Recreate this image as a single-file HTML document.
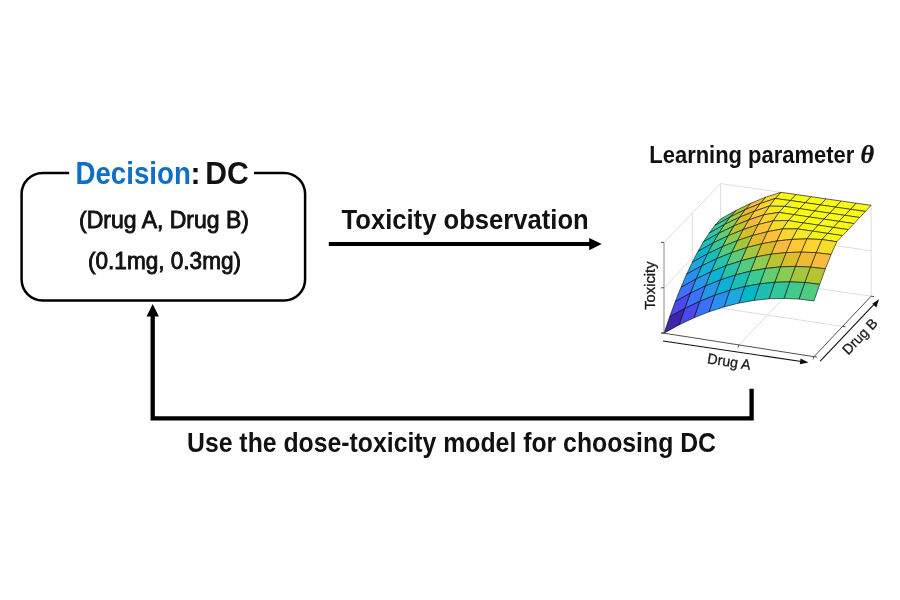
<!DOCTYPE html>
<html lang="en">
<head>
<meta charset="utf-8">
<title>Dose-toxicity learning loop</title>
<style>
html,body{margin:0;padding:0;background:#fff;}
body{width:900px;height:600px;overflow:hidden;}
svg{display:block;}
text{font-family:"Liberation Sans",sans-serif;}
.b{font-weight:bold;fill:#111;}
.m{fill:#111;stroke:#111;stroke-width:0.9px;}
.ax{font-size:14.6px;fill:#1a1a1a;stroke:#1a1a1a;stroke-width:0.3px;}
</style>
</head>
<body>
<svg width="900" height="600" viewBox="0 0 900 600">
<rect width="900" height="600" fill="#ffffff"/>

<!-- decision box -->
<path d="M69.2 173 H42.6 A21 21 0 0 0 21.6 194 V279.6 A21 21 0 0 0 42.6 300.6 H284.1 A21 21 0 0 0 305.1 279.6 V194 A21 21 0 0 0 284.1 173 H254" fill="none" stroke="#000" stroke-width="2.5"/>
<text x="75.5" y="184.3" font-size="30.7" class="b" style="fill:#0f6fc6" textLength="115.3" lengthAdjust="spacingAndGlyphs">Decision</text>
<text x="190.6" y="184.3" font-size="30.7" class="b" textLength="10" lengthAdjust="spacingAndGlyphs">:</text>
<text x="205.3" y="184.3" font-size="30.7" class="b" textLength="43.5" lengthAdjust="spacingAndGlyphs">DC</text>
<text x="79" y="227.7" font-size="24" class="m" textLength="170" lengthAdjust="spacingAndGlyphs">(Drug A, Drug B)</text>
<text x="88" y="269.3" font-size="24" class="m" textLength="153" lengthAdjust="spacingAndGlyphs">(0.1mg, 0.3mg)</text>

<!-- toxicity observation arrow -->
<text x="341.5" y="228.6" font-size="28" class="b" textLength="247.2" lengthAdjust="spacingAndGlyphs">Toxicity observation</text>
<line x1="328.8" y1="244.1" x2="590" y2="244.1" stroke="#000" stroke-width="4"/>
<polygon points="589.2,238 601.7,244.1 589.2,250.2" fill="#000"/>

<!-- feedback arrow -->
<path d="M751.6 388.8 V418.4 H152.7 V315" fill="none" stroke="#000" stroke-width="4.3"/>
<polygon points="146.5,316.4 152.7,304 158.9,316.4" fill="#000"/>
<text x="187" y="451.8" font-size="27" class="b" textLength="529" lengthAdjust="spacingAndGlyphs">Use the dose-toxicity model for choosing DC</text>

<!-- plot title -->
<text x="649.3" y="162.7" font-size="24" class="b" textLength="205" lengthAdjust="spacingAndGlyphs">Learning parameter</text>
<text x="860.6" y="162.7" font-size="24.5" textLength="13.6" lengthAdjust="spacingAndGlyphs" style="font-family:'Liberation Serif',serif;font-weight:bold;font-style:italic;fill:#111;stroke:#111;stroke-width:0.3px">θ</text>

<!-- 3D surface plot -->
<defs><filter id="soft" x="-5%" y="-5%" width="110%" height="110%"><feGaussianBlur stdDeviation="0.35"/></filter></defs>
<g id="plot" filter="url(#soft)">
<g fill="none">
<line x1="720.6" y1="274.4" x2="871.1" y2="296.2" stroke="#dcdcdc" stroke-width="1.0"/>
<line x1="664.0" y1="333.2" x2="720.6" y2="274.4" stroke="#dcdcdc" stroke-width="1.0"/>
<line x1="739.0" y1="344.9" x2="795.9" y2="285.3" stroke="#dcdcdc" stroke-width="1.0"/>
<line x1="692.3" y1="303.8" x2="842.5" y2="326.4" stroke="#dcdcdc" stroke-width="1.0"/>
<line x1="664.0" y1="242.4" x2="720.6" y2="183.6" stroke="#dcdcdc" stroke-width="1.0"/>
<line x1="664.0" y1="287.8" x2="720.6" y2="229.0" stroke="#dcdcdc" stroke-width="1.0"/>
<line x1="692.3" y1="303.8" x2="692.3" y2="213.0" stroke="#dcdcdc" stroke-width="1.0"/>
<line x1="720.6" y1="274.4" x2="720.6" y2="183.6" stroke="#dcdcdc" stroke-width="1.0"/>
<line x1="720.6" y1="183.6" x2="871.1" y2="205.4" stroke="#dcdcdc" stroke-width="1.0"/>
<line x1="720.6" y1="229.0" x2="871.1" y2="250.8" stroke="#dcdcdc" stroke-width="1.0"/>
<line x1="795.9" y1="285.3" x2="795.9" y2="194.5" stroke="#dcdcdc" stroke-width="1.0"/>
<line x1="871.1" y1="296.2" x2="871.1" y2="205.4" stroke="#dcdcdc" stroke-width="1.0"/>
</g>
<g stroke="#000" stroke-opacity="0.75" stroke-width="0.75" stroke-linejoin="round">
<polygon points="850.3,209.3 865.4,211.4 871.1,205.4 856.0,203.2" fill="#f9fb15"/>
<polygon points="835.3,207.1 850.3,209.3 856.0,203.2 841.0,201.0" fill="#f9fb15"/>
<polygon points="820.3,204.9 835.3,207.1 841.0,201.0 826.0,198.9" fill="#f9fb15"/>
<polygon points="805.2,202.7 820.3,204.9 826.0,198.9 810.9,196.7" fill="#f9fb15"/>
<polygon points="790.2,200.5 805.2,202.7 810.9,196.7 795.9,194.5" fill="#f9fb15"/>
<polygon points="775.1,198.5 790.2,200.5 795.9,194.5 780.8,192.3" fill="#f9fa16"/>
<polygon points="760.1,203.6 775.1,198.5 780.8,192.3 765.8,197.1" fill="#f7db2b"/>
<polygon points="745.0,209.7 760.1,203.6 765.8,197.1 750.7,203.3" fill="#f8ba3d"/>
<polygon points="730.0,217.0 745.0,209.7 750.7,203.3 735.7,210.6" fill="#b1c635"/>
<polygon points="714.9,225.4 730.0,217.0 735.7,210.6 720.6,219.0" fill="#4bcb84"/>
<polygon points="844.6,215.3 859.7,217.5 865.4,211.4 850.3,209.3" fill="#f9fb15"/>
<polygon points="829.6,213.1 844.6,215.3 850.3,209.3 835.3,207.1" fill="#f9fb15"/>
<polygon points="814.6,210.9 829.6,213.1 835.3,207.1 820.3,204.9" fill="#f9fb15"/>
<polygon points="799.5,208.6 814.6,210.9 820.3,204.9 805.2,202.7" fill="#f9fb15"/>
<polygon points="784.5,206.4 799.5,208.6 805.2,202.7 790.2,200.5" fill="#f9fb15"/>
<polygon points="769.4,206.1 784.5,206.4 790.2,200.5 775.1,198.5" fill="#f7f31d"/>
<polygon points="754.4,211.2 769.4,206.1 775.1,198.5 760.1,203.6" fill="#fad42e"/>
<polygon points="739.4,217.3 754.4,211.2 760.1,203.6 745.0,209.7" fill="#eeba34"/>
<polygon points="724.3,224.6 739.4,217.3 745.0,209.7 730.0,217.0" fill="#a1c840"/>
<polygon points="709.3,233.0 724.3,224.6 730.0,217.0 714.9,225.4" fill="#3eca8f"/>
<polygon points="838.9,221.3 854.0,223.6 859.7,217.5 844.6,215.3" fill="#f9fb15"/>
<polygon points="823.9,219.1 838.9,221.3 844.6,215.3 829.6,213.1" fill="#f9fb15"/>
<polygon points="808.9,216.9 823.9,219.1 829.6,213.1 814.6,210.9" fill="#f9fb15"/>
<polygon points="793.8,214.6 808.9,216.9 814.6,210.9 799.5,208.6" fill="#f9fb15"/>
<polygon points="778.8,212.4 793.8,214.6 799.5,208.6 784.5,206.4" fill="#f9fb15"/>
<polygon points="763.8,214.8 778.8,212.4 784.5,206.4 769.4,206.1" fill="#f5e725"/>
<polygon points="748.7,219.9 763.8,214.8 769.4,206.1 754.4,211.2" fill="#fec835"/>
<polygon points="733.7,226.0 748.7,219.9 754.4,211.2 739.4,217.3" fill="#dbbd29"/>
<polygon points="718.7,233.3 733.7,226.0 739.4,217.3 724.3,224.6" fill="#85cb55"/>
<polygon points="703.6,241.6 718.7,233.3 724.3,224.6 709.3,233.0" fill="#31c6a0"/>
<polygon points="833.2,227.4 848.3,229.6 854.0,223.6 838.9,221.3" fill="#f9fb15"/>
<polygon points="818.2,225.1 833.2,227.4 838.9,221.3 823.9,219.1" fill="#f9fb15"/>
<polygon points="803.2,222.9 818.2,225.1 823.9,219.1 808.9,216.9" fill="#f9fb15"/>
<polygon points="788.1,220.6 803.2,222.9 808.9,216.9 793.8,214.6" fill="#f9fb15"/>
<polygon points="773.1,220.8 788.1,220.6 793.8,214.6 778.8,212.4" fill="#f6f11f"/>
<polygon points="758.1,224.6 773.1,220.8 778.8,212.4 763.8,214.8" fill="#f9d62d"/>
<polygon points="743.0,229.7 758.1,224.6 763.8,214.8 748.7,219.9" fill="#f8ba3d"/>
<polygon points="728.0,235.8 743.0,229.7 748.7,219.9 733.7,226.0" fill="#bcc42f"/>
<polygon points="713.0,243.0 728.0,235.8 733.7,226.0 718.7,233.3" fill="#5fcd73"/>
<polygon points="698.0,251.4 713.0,243.0 718.7,233.3 703.6,241.6" fill="#1cc0b4"/>
<polygon points="827.5,233.4 842.5,235.6 848.3,229.6 833.2,227.4" fill="#f9fb15"/>
<polygon points="812.5,231.1 827.5,233.4 833.2,227.4 818.2,225.1" fill="#f9fb15"/>
<polygon points="797.5,228.9 812.5,231.1 818.2,225.1 803.2,222.9" fill="#f9fb15"/>
<polygon points="782.5,228.9 797.5,228.9 803.2,222.9 788.1,220.6" fill="#f6f11e"/>
<polygon points="767.4,231.7 782.5,228.9 788.1,220.6 773.1,220.8" fill="#f7dc2a"/>
<polygon points="752.4,235.6 767.4,231.7 773.1,220.8 758.1,224.6" fill="#fec13a"/>
<polygon points="737.4,240.6 752.4,235.6 758.1,224.6 743.0,229.7" fill="#d8be28"/>
<polygon points="722.4,246.7 737.4,240.6 743.0,229.7 728.0,235.8" fill="#8ccb50"/>
<polygon points="707.3,253.9 722.4,246.7 728.0,235.8 713.0,243.0" fill="#39c895"/>
<polygon points="692.3,262.3 707.3,253.9 713.0,243.0 698.0,251.4" fill="#02b7cb"/>
<polygon points="821.8,239.5 836.8,241.7 842.5,235.6 827.5,233.4" fill="#f9fb15"/>
<polygon points="806.8,238.9 821.8,239.5 827.5,233.4 812.5,231.1" fill="#f7f41c"/>
<polygon points="791.8,239.4 806.8,238.9 812.5,231.1 797.5,228.9" fill="#f5e825"/>
<polygon points="776.8,241.0 791.8,239.4 797.5,228.9 782.5,228.9" fill="#f9d72d"/>
<polygon points="761.7,243.8 776.8,241.0 782.5,228.9 767.4,231.7" fill="#fec13a"/>
<polygon points="746.7,247.6 761.7,243.8 767.4,231.7 752.4,235.6" fill="#e0bc2a"/>
<polygon points="731.7,252.6 746.7,247.6 752.4,235.6 737.4,240.6" fill="#a2c83f"/>
<polygon points="716.7,258.7 731.7,252.6 737.4,240.6 722.4,246.7" fill="#51cc7f"/>
<polygon points="701.7,265.9 716.7,258.7 722.4,246.7 707.3,253.9" fill="#18bfb6"/>
<polygon points="686.6,274.2 701.7,265.9 707.3,253.9 692.3,262.3" fill="#1ea7e1"/>
<polygon points="816.1,252.7 831.1,254.5 836.8,241.7 821.8,239.5" fill="#f7dc2a"/>
<polygon points="801.1,252.1 816.1,252.7 821.8,239.5 806.8,238.9" fill="#fad52e"/>
<polygon points="786.1,252.6 801.1,252.1 806.8,238.9 791.8,239.4" fill="#fec834"/>
<polygon points="771.1,254.2 786.1,252.6 791.8,239.4 776.8,241.0" fill="#f9bb3d"/>
<polygon points="756.1,256.9 771.1,254.2 776.8,241.0 761.7,243.8" fill="#d8be28"/>
<polygon points="741.0,260.8 756.1,256.9 761.7,243.8 746.7,247.6" fill="#a3c83f"/>
<polygon points="726.0,265.7 741.0,260.8 746.7,247.6 731.7,252.6" fill="#5bcc76"/>
<polygon points="711.0,271.8 726.0,265.7 731.7,252.6 716.7,258.7" fill="#28c3aa"/>
<polygon points="696.0,279.0 711.0,271.8 716.7,258.7 701.7,265.9" fill="#12b1d6"/>
<polygon points="681.0,287.3 696.0,279.0 701.7,265.9 686.6,274.2" fill="#2c8ff0"/>
<polygon points="810.4,267.1 825.4,268.8 831.1,254.5 816.1,252.7" fill="#f9bb3d"/>
<polygon points="795.4,266.4 810.4,267.1 816.1,252.7 801.1,252.1" fill="#f0ba36"/>
<polygon points="780.4,266.9 795.4,266.4 801.1,252.1 786.1,252.6" fill="#ddbd29"/>
<polygon points="765.4,268.5 780.4,266.9 786.1,252.6 771.1,254.2" fill="#bdc32e"/>
<polygon points="750.4,271.2 765.4,268.5 771.1,254.2 756.1,256.9" fill="#8ecb4f"/>
<polygon points="735.4,275.0 750.4,271.2 756.1,256.9 741.0,260.8" fill="#52cc7e"/>
<polygon points="720.4,280.0 735.4,275.0 741.0,260.8 726.0,265.7" fill="#29c3aa"/>
<polygon points="705.3,286.0 720.4,280.0 726.0,265.7 711.0,271.8" fill="#0ab4d1"/>
<polygon points="690.3,293.2 705.3,286.0 711.0,271.8 696.0,279.0" fill="#2797ea"/>
<polygon points="675.3,301.5 690.3,293.2 696.0,279.0 681.0,287.3" fill="#3f6eff"/>
<polygon points="804.7,282.5 819.7,284.3 825.4,268.8 810.4,267.1" fill="#b4c533"/>
<polygon points="789.7,281.9 804.7,282.5 810.4,267.1 795.4,266.4" fill="#a4c83e"/>
<polygon points="774.7,282.3 789.7,281.9 795.4,266.4 780.4,266.9" fill="#89cb53"/>
<polygon points="759.7,283.9 774.7,282.3 780.4,266.9 765.4,268.5" fill="#62cd71"/>
<polygon points="744.7,286.6 759.7,283.9 765.4,268.5 750.4,271.2" fill="#3ac994"/>
<polygon points="729.7,290.4 744.7,286.6 750.4,271.2 735.4,275.0" fill="#1abfb5"/>
<polygon points="714.7,295.3 729.7,290.4 735.4,275.0 720.4,280.0" fill="#11b1d6"/>
<polygon points="699.7,301.4 714.7,295.3 720.4,280.0 705.3,286.0" fill="#2798ea"/>
<polygon points="684.7,308.5 699.7,301.4 705.3,286.0 690.3,293.2" fill="#3a73fe"/>
<polygon points="669.7,316.8 684.7,308.5 690.3,293.2 675.3,301.5" fill="#4849ed"/>
<polygon points="799.0,299.1 814.0,300.9 819.7,284.3 804.7,282.5" fill="#4fcc81"/>
<polygon points="784.0,298.4 799.0,299.1 804.7,282.5 789.7,281.9" fill="#41ca8c"/>
<polygon points="769.0,298.8 784.0,298.4 789.7,281.9 774.7,282.3" fill="#33c69d"/>
<polygon points="754.0,300.4 769.0,298.8 774.7,282.3 759.7,283.9" fill="#1fc0b2"/>
<polygon points="739.0,303.1 754.0,300.4 759.7,283.9 744.7,286.6" fill="#01b8c9"/>
<polygon points="724.0,306.9 739.0,303.1 744.7,286.6 729.7,290.4" fill="#1da8e0"/>
<polygon points="709.0,311.8 724.0,306.9 729.7,290.4 714.7,295.3" fill="#2b90f0"/>
<polygon points="694.0,317.8 709.0,311.8 714.7,295.3 699.7,301.4" fill="#3e6fff"/>
<polygon points="679.0,324.9 694.0,317.8 699.7,301.4 684.7,308.5" fill="#4849ed"/>
<polygon points="664.0,333.2 679.0,324.9 684.7,308.5 669.7,316.8" fill="#3e26a8"/>
</g>
<g fill="none">
<line x1="664.0" y1="333.2" x2="814.0" y2="356.7" stroke="#3c3c3c" stroke-width="0.9"/>
<line x1="814.0" y1="356.7" x2="871.1" y2="296.2" stroke="#3c3c3c" stroke-width="0.9"/>
<line x1="664.0" y1="333.2" x2="664.0" y2="242.4" stroke="#666" stroke-width="0.75"/>
<line x1="664.0" y1="333.2" x2="661.0" y2="333.2" stroke="#3c3c3c" stroke-width="0.9"/>
<line x1="664.0" y1="287.8" x2="661.0" y2="287.8" stroke="#3c3c3c" stroke-width="0.9"/>
<line x1="664.0" y1="242.4" x2="661.0" y2="242.4" stroke="#3c3c3c" stroke-width="0.9"/>
<line x1="664.0" y1="333.2" x2="661.5" y2="332.6" stroke="#3c3c3c" stroke-width="0.9"/>
<line x1="739.0" y1="344.9" x2="737.8" y2="347.6" stroke="#3c3c3c" stroke-width="0.9"/>
<line x1="814.0" y1="356.7" x2="812.8" y2="359.3" stroke="#3c3c3c" stroke-width="0.9"/>
<line x1="814.0" y1="356.7" x2="817.0" y2="357.1" stroke="#3c3c3c" stroke-width="0.9"/>
<line x1="842.5" y1="326.4" x2="845.5" y2="326.8" stroke="#3c3c3c" stroke-width="0.9"/>
<line x1="871.1" y1="296.2" x2="874.1" y2="296.6" stroke="#3c3c3c" stroke-width="0.9"/>
</g>
<!-- axis arrows -->
<line x1="663" y1="341" x2="803" y2="361.7" stroke="#111" stroke-width="1.1"/>
<polygon points="808.5,362.5 799.8,364.2 800.6,358.6" fill="#111"/>
<line x1="820.2" y1="361.1" x2="875.2" y2="303.2" stroke="#111" stroke-width="1.1"/>
<polygon points="879,299.2 876.3,307.6 872.3,303.8" fill="#111"/>
<text class="ax" transform="translate(655.3,309.8) rotate(-90)" textLength="48.4" lengthAdjust="spacingAndGlyphs">Toxicity</text>
<text class="ax" transform="translate(706.8,363.2) rotate(8.8)" textLength="43.5" lengthAdjust="spacingAndGlyphs">Drug A</text>
<text class="ax" style="font-size:14.2px" transform="translate(848.2,355.4) rotate(-46)" textLength="43.6" lengthAdjust="spacingAndGlyphs">Drug B</text>
</g>
</svg>
</body>
</html>
